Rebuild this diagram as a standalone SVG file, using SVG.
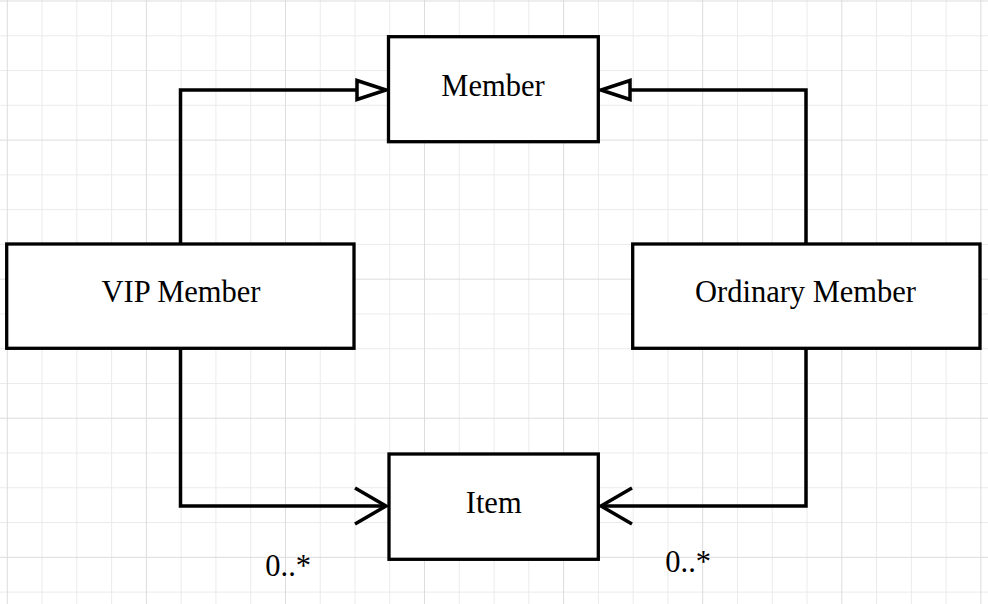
<svg xmlns="http://www.w3.org/2000/svg" width="988" height="604" viewBox="0 0 988 604">
<style>
.minor{stroke:#ebebeb;stroke-width:1;fill:none}
.major{stroke:#dcdcdc;stroke-width:1;fill:none}
.box{fill:#fff;stroke:#000;stroke-width:3.3}
.lbl{font-family:"Liberation Serif","Times New Roman",serif;font-size:30.5px;fill:#000}
.mid{text-anchor:middle}
.edge{fill:none;stroke:#000;stroke-width:3.5}
</style>
<defs>
<marker id="tri" markerUnits="userSpaceOnUse" markerWidth="40" markerHeight="30" viewBox="-35 -15 40 30" refX="0" refY="0" orient="auto" overflow="visible">
<path d="M0,0 L-29,-9.5 L-29,9.5 Z" fill="#fff" stroke="#000" stroke-width="3.5"/>
</marker>
<marker id="open" markerUnits="userSpaceOnUse" markerWidth="40" markerHeight="40" viewBox="-35 -20 40 40" refX="0" refY="0" orient="auto" overflow="visible">
<path d="M-31,-18 L0,0 L-31,18" fill="none" stroke="#000" stroke-width="3.5"/>
</marker>
</defs>
<rect width="988" height="604" fill="#fff"/>
<g id="grid">
<path class="minor" d="M42.07,0V604M76.84,0V604M111.61,0V604M181.15,0V604M215.92,0V604M250.69,0V604M320.23,0V604M355,0V604M389.77,0V604M459.31,0V604M494.08,0V604M528.85,0V604M598.39,0V604M633.16,0V604M667.93,0V604M737.47,0V604M772.24,0V604M807.01,0V604M876.55,0V604M911.32,0V604M946.09,0V604M0,35.77H988M0,70.54H988M0,105.31H988M0,174.85H988M0,209.62H988M0,244.39H988M0,313.93H988M0,348.7H988M0,383.47H988M0,453.01H988M0,487.78H988M0,522.55H988M0,592.09H988"/>
<path class="major" d="M7.3,0V604M146.38,0V604M285.46,0V604M424.54,0V604M563.62,0V604M702.7,0V604M841.78,0V604M980.86,0V604M0,1H988M0,140.08H988M0,279.16H988M0,418.24H988M0,557.32H988"/>
</g>
<g id="connectors">
<path class="edge" d="M180.5,244 V90 H386" marker-end="url(#tri)"/>
<path class="edge" d="M806,244 V90 H601" marker-end="url(#tri)"/>
<path class="edge" d="M180.5,348 V506 H386" marker-end="url(#open)"/>
<path class="edge" d="M806,348 V506 H601" marker-end="url(#open)"/>
<text class="lbl" x="265.3" y="576">0..*</text>
<text class="lbl" x="665.3" y="571.7">0..*</text>
</g>
<g id="member">
<rect class="box" x="388.5" y="36.7" width="209.8" height="105"/>
<text class="lbl mid" x="493" y="95.7">Member</text>
</g>
<g id="vip-member">
<rect class="box" x="6.7" y="244" width="347.3" height="104.3"/>
<text class="lbl mid" x="181" y="301.7">VIP Member</text>
</g>
<g id="ordinary-member">
<rect class="box" x="632.7" y="244" width="347.3" height="104.3"/>
<text class="lbl mid" x="805.5" y="301.7">Ordinary Member</text>
</g>
<g id="item">
<rect class="box" x="389" y="454" width="209.3" height="105.3"/>
<text class="lbl mid" x="493.7" y="513.3">Item</text>
</g>
</svg>
